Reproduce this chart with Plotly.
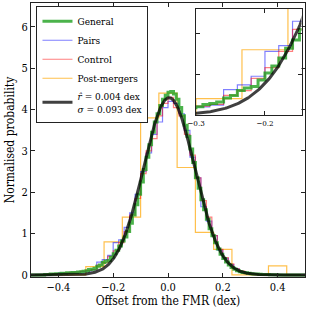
import numpy as np
import plotly.graph_objects as go

# ---- data ----
# General sample: 0.01 dex bins from -0.50 to 0.50 (values = normalised probability)
general_edges_start, general_width = -0.50, 0.01
general_vals = [
    0.0, 0.0, 0.0, 0.0, 0.0,
    0.01, 0.01, 0.02, 0.02, 0.03,
    0.03, 0.04, 0.04, 0.05, 0.05,
    0.06, 0.06, 0.07, 0.08, 0.09,
    0.10, 0.13, 0.14, 0.16, 0.21,
    0.24, 0.30, 0.33, 0.35, 0.43,
    0.515, 0.60, 0.70, 0.82, 0.92,
    1.05, 1.25, 1.45, 1.70, 1.95,
    2.25, 2.55, 2.85, 3.15, 3.45,
    3.70, 3.90, 4.10, 4.25, 4.35,
    4.42, 4.44, 4.38, 4.25, 4.05,
    3.85, 3.62, 3.35, 3.05, 2.72,
    2.35, 2.10, 1.82, 1.58, 1.35,
    1.12, 0.95, 0.78, 0.63, 0.50,
    0.40, 0.31, 0.24, 0.18, 0.14,
    0.10, 0.08, 0.06, 0.05, 0.04,
    0.03, 0.025, 0.02, 0.015, 0.01,
    0.01, 0.01, 0.005, 0.005, 0.005,
    0.0, 0.0, 0.0, 0.0, 0.0,
    0.0, 0.0, 0.0, 0.0, 0.0,
]

# Pairs and Control: 0.02 dex bins from -0.50 to 0.50
pairs_width = 0.02
pairs_vals = [
    0.0, 0.0, 0.0, 0.0, 0.03, 0.05, 0.05, 0.06, 0.07, 0.08,
    0.10, 0.12, 0.31, 0.37, 0.475, 0.78, 0.85, 1.15, 1.50, 1.95,
    2.50, 2.95, 3.40, 3.70, 4.05, 4.20, 4.15, 3.90, 3.50, 2.85,
    2.35, 1.65, 1.30, 0.95, 0.60, 0.40, 0.25, 0.15, 0.08, 0.05,
    0.03, 0.02, 0.01, 0.0, 0.0, 0.0, 0.0, 0.0, 0.0, 0.0,
]
control_vals = [
    0.0, 0.0, 0.01, 0.02, 0.03, 0.04, 0.05, 0.06, 0.07, 0.09,
    0.11, 0.13, 0.24, 0.30, 0.45, 0.58, 0.78, 1.05, 1.45, 1.85,
    2.45, 3.00, 3.30, 3.85, 4.15, 4.30, 4.05, 3.85, 3.40, 2.90,
    2.35, 1.80, 1.40, 0.95, 0.62, 0.42, 0.27, 0.15, 0.09, 0.05,
    0.03, 0.02, 0.01, 0.01, 0.0, 0.0, 0.0, 0.0, 0.0, 0.0,
]

# Post-mergers: 15 bins from -0.50 to 0.50
post_nbins = 15
post_vals = [0.0, 0.0, 0.0, 0.2, 0.8, 1.4, 3.8, 4.4, 2.6, 1.03, 0.62, 0.0, 0.0, 0.22, 0.0]

# Gaussian fit parameters shown in the legend
fit_mu = 0.004
fit_sigma = 0.093

x_range = [-0.5, 0.5]
y_range = [-0.05, 6.58]
inset_x_range = [-0.3, -0.147]
inset_y_range = [0.0, 1.3]

# ---- helpers ----
def step_xy(start, width, vals):
    n = len(vals)
    edges = [start + i * width for i in range(n + 1)]
    ys = list(vals) + [vals[-1]]
    return edges, ys

gx, gy = step_xy(general_edges_start, general_width, general_vals)
px_, py_ = step_xy(-0.5, pairs_width, pairs_vals)
cx, cy = step_xy(-0.5, pairs_width, control_vals)
ox, oy = step_xy(-0.5, 1.0 / post_nbins, post_vals)

xf = np.linspace(-0.5, 0.5, 600)
yf = np.exp(-0.5 * ((xf - fit_mu) / fit_sigma) ** 2) / (fit_sigma * np.sqrt(2 * np.pi))

FONT = "DejaVu Serif Condensed, DejaVu Serif"
col_gen = "rgba(30,160,30,0.8)"
col_pairs = "rgba(0,0,255,0.5)"
col_ctrl = "rgba(255,0,0,0.5)"
col_post = "rgba(255,165,0,0.7)"
col_fit = "rgba(0,0,0,0.75)"

fig = go.Figure()

def add_all(xa, ya, legend):
    fig.add_trace(go.Scatter(x=ox, y=oy, mode="lines", line=dict(shape="hv", color=col_post, width=1.2),
                             name="Post-mergers", legendrank=4, showlegend=legend, xaxis=xa, yaxis=ya))
    fig.add_trace(go.Scatter(x=px_, y=py_, mode="lines", line=dict(shape="hv", color=col_pairs, width=1.2),
                             name="Pairs", legendrank=2, showlegend=legend, xaxis=xa, yaxis=ya))
    fig.add_trace(go.Scatter(x=cx, y=cy, mode="lines", line=dict(shape="hv", color=col_ctrl, width=1.2),
                             name="Control", legendrank=3, showlegend=legend, xaxis=xa, yaxis=ya))
    fig.add_trace(go.Scatter(x=gx, y=gy, mode="lines", line=dict(shape="hv", color=col_gen, width=3),
                             name="General", legendrank=1, showlegend=legend, xaxis=xa, yaxis=ya))
    fig.add_trace(go.Scatter(x=xf, y=yf, mode="lines", line=dict(color=col_fit, width=3),
                             name="<i>r̂</i> = 0.004 dex<br><i>σ</i> = 0.093 dex", legendrank=5,
                             showlegend=legend, xaxis=xa, yaxis=ya))

add_all("x", "y", True)
add_all("x2", "y2", False)

L, R, T, B = 31, 5, 3, 33
W = H = 310
pw = W - L - R
ph = H - T - B
ins_x0 = (196 - L) / pw
ins_x1 = (301.5 - L) / pw
ins_y0 = (H - B - 115) / ph
ins_y1 = (H - B - 9) / ph

axis_common = dict(showline=True, linecolor="#222", linewidth=1, mirror="allticks",
                   ticks="inside", ticklen=4, tickcolor="#222", showgrid=False, zeroline=False)

fig.update_layout(
    width=W, height=H,
    margin=dict(l=L, r=R, t=T, b=B),
    paper_bgcolor="white", plot_bgcolor="white",
    font=dict(family=FONT, size=11, color="black"),
    xaxis=dict(domain=[0, 1], range=x_range, tickvals=[-0.4, -0.2, 0.0, 0.2, 0.4], tickformat=".1f",
               title=dict(text="Offset from the FMR (dex)", font=dict(size=12), standoff=2), **axis_common),
    yaxis=dict(domain=[0, 1], range=y_range, tickvals=[0, 1, 2, 3, 4, 5, 6],
               title=dict(text="Normalised probability", font=dict(size=12), standoff=4), **axis_common),
    xaxis2=dict(domain=[ins_x0, ins_x1], anchor="y2", range=inset_x_range, tickvals=[-0.3, -0.2],
                tickformat=".1f", tickfont=dict(size=8), ticklabelstandoff=0, **axis_common),
    yaxis2=dict(domain=[ins_y0, ins_y1], anchor="x2", range=inset_y_range, showticklabels=False,
                tickvals=[0.5, 1.0], **axis_common),
    legend=dict(x=0.02, y=0.99, xanchor="left", yanchor="top", bgcolor="white",
                bordercolor="#222", borderwidth=1, font=dict(size=10), tracegroupgap=0,
                itemwidth=30),
    showlegend=True,
)

fig.write_html("out.html", config={"displayModeBar": False},
               post_script="document.body.style.margin='0';document.body.style.padding='0';")
